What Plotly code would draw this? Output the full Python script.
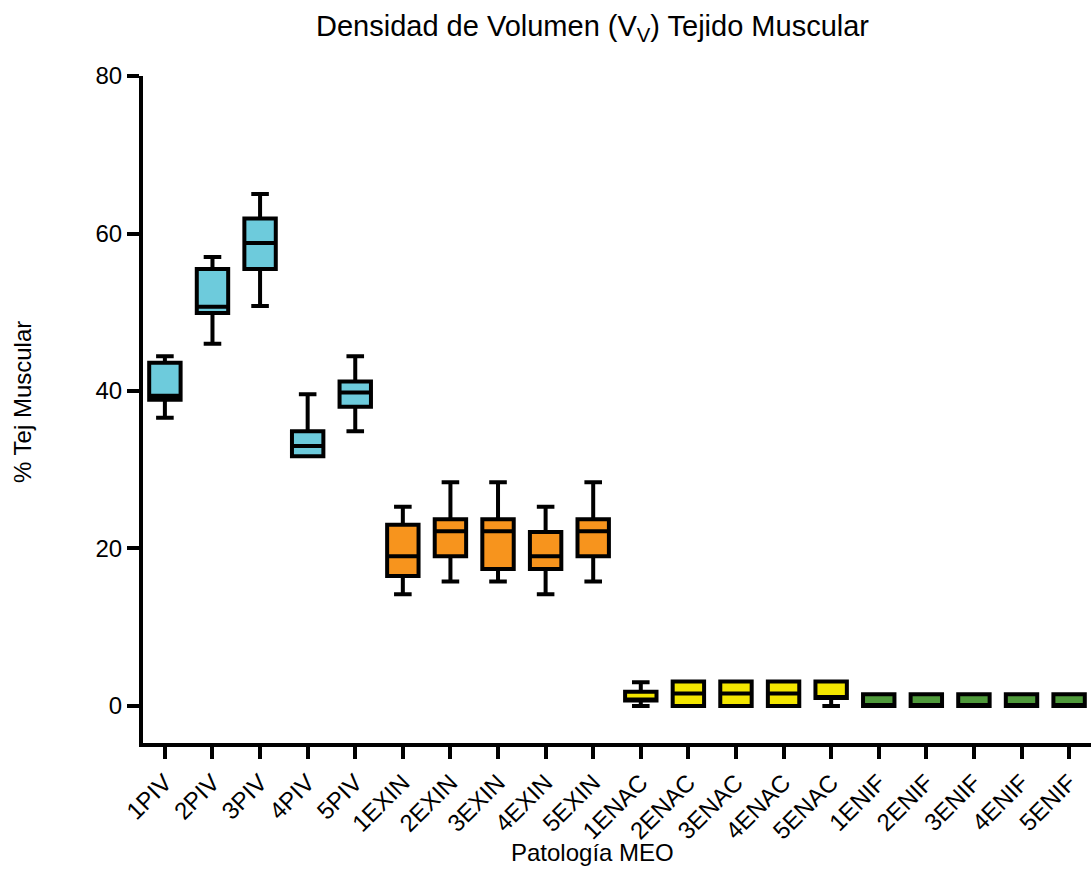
import plotly.graph_objects as go

# Summary statistics per pathology group (percent muscular tissue)
piv_labels = ["1PIV", "2PIV", "3PIV", "4PIV", "5PIV"]
piv_min = [36.6, 46.0, 50.8, 31.7, 34.9]
piv_q1 = [38.9, 49.9, 55.5, 31.7, 38.0]
piv_med = [39.4, 50.7, 58.8, 33.0, 39.8]
piv_q3 = [43.6, 55.5, 61.9, 34.9, 41.2]
piv_max = [44.4, 57.0, 65.0, 39.6, 44.4]

exin_labels = ["1EXIN", "2EXIN", "3EXIN", "4EXIN", "5EXIN"]
exin_min = [14.2, 15.8, 15.8, 14.2, 15.8]
exin_q1 = [16.5, 19.0, 17.4, 17.4, 19.0]
exin_med = [19.0, 22.2, 22.2, 19.0, 22.2]
exin_q3 = [23.0, 23.7, 23.7, 22.1, 23.7]
exin_max = [25.3, 28.4, 28.4, 25.3, 28.4]

enac_labels = ["1ENAC", "2ENAC", "3ENAC", "4ENAC", "5ENAC"]
enac_min = [0.0, 0.0, 0.0, 0.0, 0.0]
enac_q1 = [0.7, 0.0, 0.0, 0.0, 1.0]
enac_med = [0.7, 1.6, 1.6, 1.6, 1.0]
enac_q3 = [1.8, 3.1, 3.1, 3.1, 3.1]
enac_max = [3.0, 3.1, 3.1, 3.1, 3.1]

enif_labels = ["1ENIF", "2ENIF", "3ENIF", "4ENIF", "5ENIF"]
enif_min = [0.0, 0.0, 0.0, 0.0, 0.0]
enif_q1 = [0.0, 0.0, 0.0, 0.0, 0.0]
enif_med = [0.0, 0.0, 0.0, 0.0, 0.0]
enif_q3 = [1.5, 1.5, 1.5, 1.5, 1.5]
enif_max = [1.5, 1.5, 1.5, 1.5, 1.5]

y_ticks = [0, 20, 40, 60, 80]

groups = [
    (piv_labels, piv_min, piv_q1, piv_med, piv_q3, piv_max, "#6DCBDC"),
    (exin_labels, exin_min, exin_q1, exin_med, exin_q3, exin_max, "#F7941D"),
    (enac_labels, enac_min, enac_q1, enac_med, enac_q3, enac_max, "#F3E600"),
    (enif_labels, enif_min, enif_q1, enif_med, enif_q3, enif_max, "#4F9A3B"),
]

all_labels = piv_labels + exin_labels + enac_labels + enif_labels

fig = go.Figure()
for labels, lo, q1, med, q3, hi, color in groups:
    fig.add_trace(go.Box(
        x=labels, lowerfence=lo, q1=q1, median=med, q3=q3, upperfence=hi,
        fillcolor=color, line=dict(color="black", width=4),
        width=0.66, whiskerwidth=0.56, boxpoints=False, showlegend=False,
    ))

font_main = "Liberation Sans, Arial, sans-serif"

# Figure size and plot-area edges in pixels
W, H = 1091, 871
L, R, T, B = 143, 0, 76, 128
plot_w, plot_h = W - L - R, H - T - B


def px_to_paper(px, py):
    """Convert a pixel position on the page to paper coordinates."""
    return (px - L) / plot_w, (H - B - py) / plot_h


title_x, title_y = px_to_paper(592, 28)
xlab_x, xlab_y = px_to_paper(592, 852)
ylab_x, ylab_y = px_to_paper(22, 402)

fig.update_layout(
    width=W, height=H,
    margin=dict(l=L, r=R, t=T, b=B),
    paper_bgcolor="white", plot_bgcolor="white",
    boxmode="overlay",
    font=dict(family=font_main, color="black", size=24),
    xaxis=dict(
        type="category", categoryorder="array", categoryarray=all_labels,
        range=[-0.46, 19.46],
        showline=True, linecolor="black", linewidth=4,
        ticks="outside", ticklen=12, tickwidth=4, tickcolor="black",
        tickangle=-45,
        tickfont=dict(family=font_main, size=24, color="black"),
        showgrid=False, zeroline=False,
    ),
    yaxis=dict(
        range=[-4.7, 80], tickvals=y_ticks,
        showline=True, linecolor="black", linewidth=4,
        ticks="outside", ticklen=12, tickwidth=4, tickcolor="black",
        tickfont=dict(family=font_main, size=24, color="black"),
        showgrid=False, zeroline=False,
    ),
    annotations=[
        dict(text="Densidad de Volumen (V<sub>V</sub>) Tejido Muscular",
             x=title_x, y=title_y, xref="paper", yref="paper",
             xanchor="center", yanchor="middle", showarrow=False,
             font=dict(family="Liberation Sans Narrow, Arial Narrow, sans-serif",
                       size=29, color="black")),
        dict(text="Patología MEO", x=xlab_x, y=xlab_y, xref="paper", yref="paper",
             xanchor="center", yanchor="middle", showarrow=False,
             font=dict(family=font_main, size=24, color="black")),
        dict(text="% Tej Muscular", x=ylab_x, y=ylab_y, xref="paper", yref="paper",
             xanchor="center", yanchor="middle", showarrow=False, textangle=-90,
             font=dict(family=font_main, size=24, color="black")),
    ],
)

fig.write_html("out.html")
